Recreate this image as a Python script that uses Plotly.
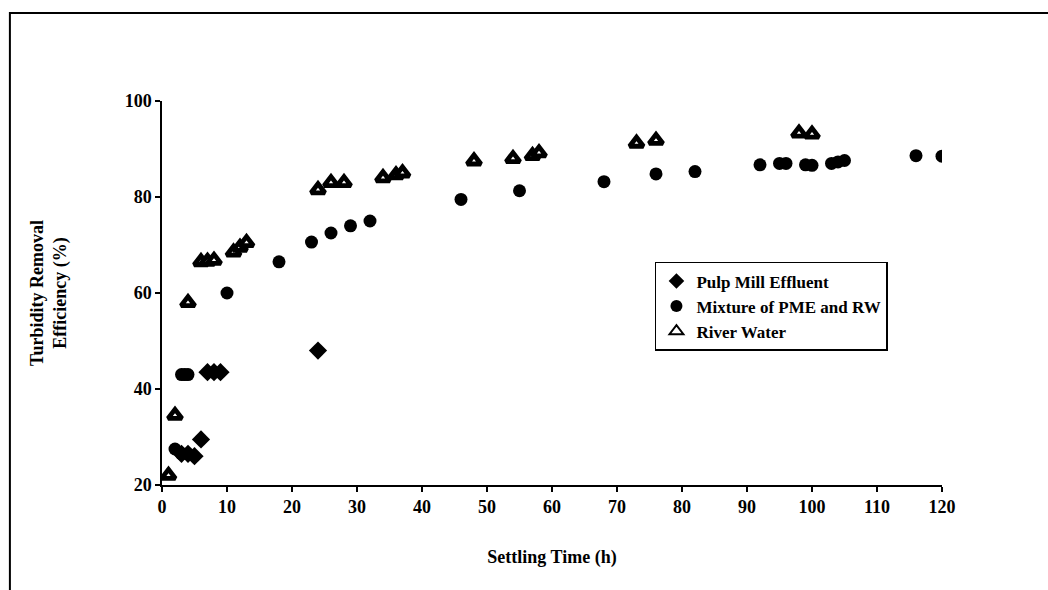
import plotly.graph_objects as go

# Settling time (h) and turbidity removal efficiency (%) for each water type
pme_time = [3, 4, 5, 6, 7, 8, 9, 24]
pme_eff = [26.5, 26.5, 26.0, 29.5, 43.5, 43.5, 43.5, 48.0]

mix_time = [2, 3, 3, 3.5, 4, 10, 18, 23, 26, 29, 32, 46, 55, 68, 76, 82,
            92, 95, 96, 99, 100, 103, 104, 105, 116, 120]
mix_eff = [27.5, 26.5, 43.0, 43.0, 43.0, 60.0, 66.5, 70.6, 72.5, 74.0, 75.0, 79.5, 81.3,
           83.2, 84.8, 85.3, 86.7, 87.0, 87.0, 86.7, 86.6, 87.0, 87.3, 87.6, 88.6, 88.5]

rw_time = [1, 2, 4, 6, 7, 8, 11, 12, 13, 24, 26, 28, 34, 36, 37,
           48, 54, 57, 58, 73, 76, 98, 100]
rw_eff = [22.0, 34.5, 58.0, 66.5, 66.6, 66.8, 68.5, 69.5, 70.5, 81.5, 83.0, 83.0,
          84.0, 84.6, 85.0, 87.5, 88.0, 88.6, 89.2, 91.2, 91.8, 93.3, 93.1]

x_ticks = [0, 10, 20, 30, 40, 50, 60, 70, 80, 90, 100, 110, 120]
y_ticks = [20, 40, 60, 80, 100]

FONT = "Liberation Serif"

fig = go.Figure()
fig.add_trace(go.Scatter(
    x=pme_time, y=pme_eff, mode="markers", name="Pulp Mill Effluent",
    marker=dict(symbol="diamond", size=14, color="black", line=dict(width=0)),
))
fig.add_trace(go.Scatter(
    x=mix_time, y=mix_eff, mode="markers", name="Mixture of PME and RW",
    marker=dict(symbol="circle", size=13, color="black", line=dict(width=0)),
))
fig.add_trace(go.Scatter(
    x=rw_time, y=rw_eff, mode="markers", name="River Water",
    marker=dict(symbol="triangle-up", size=12, color="white",
                line=dict(width=4.8, color="black")),
))

axis_common = dict(
    showline=True, linecolor="black", linewidth=1.5, mirror=False,
    ticks="outside", ticklen=5, tickwidth=1.5, tickcolor="black",
    showgrid=False, zeroline=False,
    tickfont=dict(family=FONT, size=18, color="black", weight="bold"),
)

fig.update_layout(
    width=1048, height=590,
    margin=dict(l=162, r=106, t=101, b=105),
    paper_bgcolor="white", plot_bgcolor="white",
    xaxis=dict(range=[0, 120], tickvals=x_ticks, **axis_common,
               title=dict(text="<b>Settling Time (h)</b>", standoff=34,
                          font=dict(family=FONT, size=18, color="black"))),
    yaxis=dict(range=[20, 100], tickvals=y_ticks, **axis_common,
               title=dict(text="<b>Turbidity Removal<br>Efficiency (%)</b>", standoff=53,
                          font=dict(family=FONT, size=18, color="black"))),
    legend=dict(
        x=0.632, y=0.581, xanchor="left", yanchor="top",
        bgcolor="white", bordercolor="black", borderwidth=1.5,
        font=dict(family=FONT, size=17, color="black", weight="bold"),
        itemsizing="constant", tracegroupgap=2, itemwidth=30,
    ),
    showlegend=True,
)

# Frame around the figure (top and left edges visible)
fig.add_shape(type="rect", xref="paper", yref="paper",
              x0=-0.195, x1=1.2, y0=-0.35, y1=1.229,
              line=dict(color="black", width=2), fillcolor="rgba(0,0,0,0)")

fig.write_html("out.html")
